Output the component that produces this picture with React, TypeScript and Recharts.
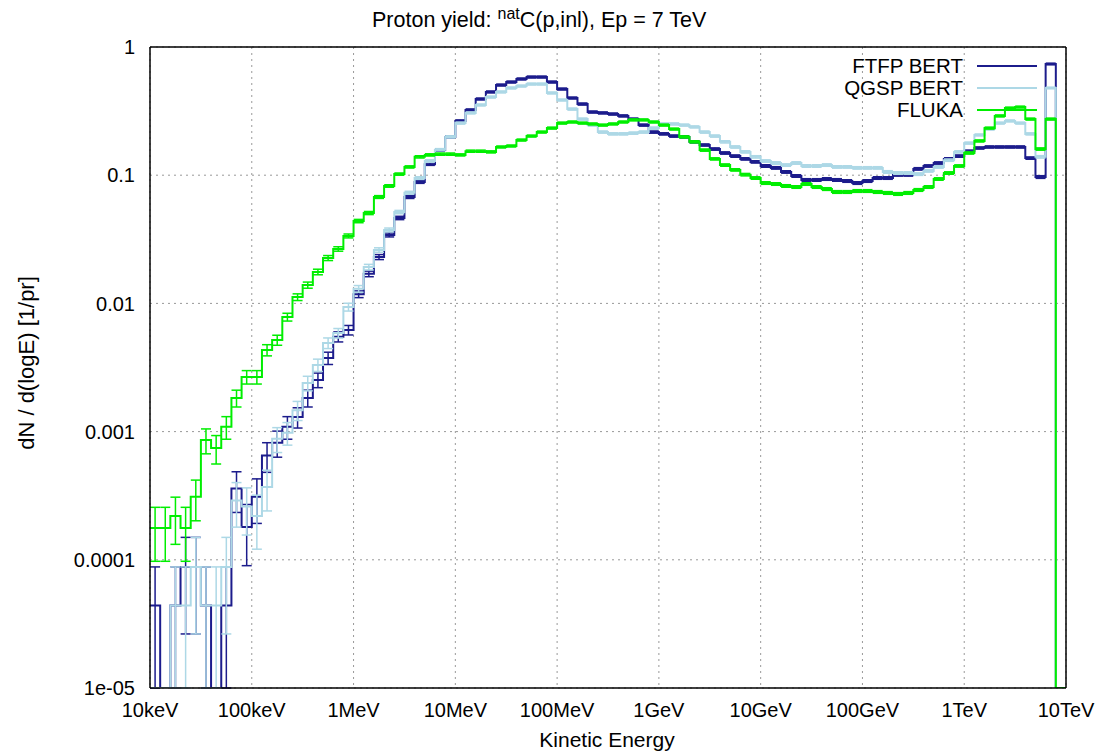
import React from 'react'
import { ComposedChart, Line, Scatter, ErrorBar, XAxis, YAxis, CartesianGrid } from 'recharts'

// x axis: log10(E / eV), 10 bins per decade from 10 keV to 10 TeV
const energyTicks = [4, 5, 6, 7, 8, 9, 10, 11, 12, 13]
const energyLabels = ['10keV', '100keV', '1MeV', '10MeV', '100MeV', '1GeV', '10GeV', '100GeV', '1TeV', '10TeV']
const yieldTicks = [1e-5, 1e-4, 1e-3, 0.01, 0.1, 1]
const yieldLabels = ['1e-05', '0.0001', '0.001', '0.01', '0.1', '1']

const binEdges = Array.from({ length: 91 }, (_, i) => +(4 + i / 10).toFixed(1))

const ftfp = [
  4.4e-5, 0, 4.4e-5, 8.8e-5, 8.8e-5, 4.4e-5, 0, 4.4e-5, 3.6e-4, 1.8e-4,
  3.1e-4, 6.5e-4, 8.2e-4, 1.09e-3, 1.3e-3, 1.83e-3, 2.53e-3, 3.75e-3, 5.5e-3, 6.2e-3,
  1.18e-2, 1.7e-2, 2.3e-2, 3.42e-2, 4.64e-2, 6.76e-2, 8.85e-2, 0.122, 0.157, 0.199,
  0.265, 0.323, 0.393, 0.446, 0.505, 0.533, 0.563, 0.583, 0.583, 0.533,
  0.47, 0.4, 0.359, 0.311, 0.306, 0.3, 0.29, 0.274, 0.246, 0.217,
  0.21, 0.202, 0.199, 0.182, 0.172, 0.16, 0.149, 0.141, 0.134, 0.127,
  0.118, 0.114, 0.106, 0.0986, 0.0918, 0.0918, 0.0934, 0.0918, 0.0901, 0.0869,
  0.0901, 0.0951, 0.0951, 0.1005, 0.1005, 0.112, 0.118, 0.1245, 0.134, 0.141,
  0.154, 0.163, 0.166, 0.166, 0.166, 0.166, 0.136, 0.0968, 0.737, 0,
]
const qgsp = [
  0, 0, 4.4e-5, 4.4e-5, 8.8e-5, 4.4e-5, 4.4e-5, 8.8e-5, 2.9e-4, 2.6e-4,
  2.2e-4, 3.7e-4, 8.8e-4, 9.8e-4, 1.47e-3, 2.39e-3, 3.31e-3, 4.91e-3, 5.87e-3, 9.37e-3,
  1.3e-2, 1.92e-2, 2.61e-2, 3.74e-2, 5.16e-2, 7.3e-2, 9.5e-2, 0.129, 0.158, 0.199,
  0.255, 0.306, 0.353, 0.407, 0.446, 0.479, 0.496, 0.514, 0.514, 0.438,
  0.386, 0.328, 0.274, 0.246, 0.217, 0.21, 0.21, 0.213, 0.217, 0.233,
  0.251, 0.251, 0.246, 0.238, 0.217, 0.202, 0.182, 0.166, 0.152, 0.139,
  0.129, 0.1245, 0.12, 0.1245, 0.118, 0.118, 0.12, 0.116, 0.116, 0.114,
  0.114, 0.114, 0.106, 0.104, 0.104, 0.102, 0.108, 0.116, 0.131, 0.152,
  0.178, 0.206, 0.229, 0.255, 0.265, 0.255, 0.21, 0.139, 0.479, 0,
]
const fluka = [
  1.77e-4, 1.77e-4, 2.2e-4, 1.77e-4, 3.1e-4, 8.6e-4, 7.45e-4, 1.09e-3, 1.83e-3, 2.67e-3,
  2.67e-3, 4.33e-3, 5.18e-3, 7.83e-3, 1.12e-2, 1.39e-2, 1.76e-2, 2.26e-2, 2.66e-2, 3.36e-2,
  4.39e-2, 5.07e-2, 6.76e-2, 8.24e-2, 0.102, 0.116, 0.139, 0.144, 0.146, 0.146,
  0.144, 0.154, 0.154, 0.152, 0.166, 0.169, 0.188, 0.202, 0.217, 0.233,
  0.255, 0.26, 0.255, 0.251, 0.246, 0.251, 0.26, 0.27, 0.27, 0.26,
  0.246, 0.229, 0.199, 0.182, 0.157, 0.134, 0.12, 0.11, 0.101, 0.0951,
  0.0869, 0.0854, 0.0824, 0.0809, 0.0854, 0.0809, 0.078, 0.074, 0.074, 0.0753,
  0.0753, 0.074, 0.0727, 0.0714, 0.0727, 0.0767, 0.0809, 0.0934, 0.104, 0.118,
  0.149, 0.185, 0.233, 0.29, 0.334, 0.34, 0.274, 0.16, 0.274, 0,
]

// relative statistical errors per bin
const ftfpErr = [
  1, 0, 1, 0.7, 0.7, 1, 0, 1, 0.35, 0.5,
  0.38, 0.26, 0.23, 0.2, 0.18, 0.15, 0.13, 0.11, 0.09, 0.085,
  0.06, 0.05, 0.045, 0.035, 0.03, 0.026, 0.024, 0.022, 0.02, 0.02,
  0.019, 0.018, 0.018, 0.018, 0.018, 0.018, 0.018, 0.018, 0.018, 0.018,
  0.018, 0.018, 0.019, 0.019, 0.019, 0.019, 0.019, 0.019, 0.019, 0.02,
  0.02, 0.02, 0.02, 0.02, 0.02, 0.021, 0.021, 0.021, 0.021, 0.021,
  0.022, 0.022, 0.022, 0.023, 0.023, 0.023, 0.023, 0.023, 0.023, 0.023,
  0.023, 0.023, 0.023, 0.022, 0.022, 0.022, 0.021, 0.021, 0.021, 0.021,
  0.02, 0.02, 0.02, 0.02, 0.02, 0.02, 0.021, 0.024, 0.015, 0,
]
const qgspErr = [
  0, 0, 1, 1, 0.7, 1, 1, 0.7, 0.38, 0.4,
  0.45, 0.35, 0.22, 0.2, 0.17, 0.13, 0.11, 0.095, 0.085, 0.07,
  0.06, 0.05, 0.04, 0.035, 0.03, 0.026, 0.024, 0.022, 0.02, 0.02,
  0.019, 0.018, 0.018, 0.018, 0.018, 0.018, 0.018, 0.018, 0.018, 0.018,
  0.018, 0.019, 0.019, 0.019, 0.02, 0.02, 0.02, 0.02, 0.02, 0.02,
  0.019, 0.019, 0.019, 0.019, 0.02, 0.02, 0.02, 0.021, 0.021, 0.021,
  0.022, 0.022, 0.022, 0.022, 0.022, 0.022, 0.022, 0.022, 0.022, 0.022,
  0.022, 0.022, 0.023, 0.023, 0.023, 0.023, 0.022, 0.022, 0.021, 0.02,
  0.019, 0.018, 0.018, 0.018, 0.018, 0.018, 0.019, 0.022, 0.015, 0,
]
const flukaErr = [
  0.45, 0.45, 0.4, 0.45, 0.35, 0.22, 0.25, 0.2, 0.15, 0.12,
  0.12, 0.1, 0.09, 0.07, 0.06, 0.055, 0.05, 0.045, 0.04, 0.035,
  0.03, 0.028, 0.025, 0.022, 0.02, 0.02, 0.02, 0.02, 0.02, 0.02,
  0.019, 0.019, 0.019, 0.019, 0.018, 0.018, 0.018, 0.018, 0.018, 0.018,
  0.018, 0.018, 0.018, 0.018, 0.018, 0.018, 0.018, 0.018, 0.018, 0.018,
  0.018, 0.018, 0.019, 0.019, 0.02, 0.02, 0.021, 0.021, 0.022, 0.022,
  0.023, 0.023, 0.023, 0.023, 0.023, 0.023, 0.024, 0.024, 0.024, 0.024,
  0.024, 0.024, 0.024, 0.024, 0.024, 0.024, 0.023, 0.022, 0.022, 0.021,
  0.02, 0.019, 0.018, 0.018, 0.017, 0.017, 0.018, 0.021, 0.018, 0,
]

const YMIN = 1e-5 // empty bins / long error bars stop at the bottom axis

const steps = binEdges.map((x, i) => {
  const k = Math.min(i, 89)
  return {
    x,
    ftfp: Math.max(ftfp[k], YMIN),
    qgsp: Math.max(qgsp[k], YMIN),
    fluka: Math.max(fluka[k], YMIN),
  }
})

const errRows = (vals: number[], rel: number[]) =>
  vals
    .map((v, i) => ({ x: binEdges[i] + 0.05, y: v, err: [Math.min(v * rel[i], v - YMIN), v * rel[i]] }))
    .filter((r) => r.y > 0 && r.err[1] > 0)

const series = [
  { key: 'ftfp', name: 'FTFP BERT', color: '#1c1c8c', vals: ftfp, rel: ftfpErr },
  { key: 'qgsp', name: 'QGSP BERT', color: '#add8e6', vals: qgsp, rel: qgspErr },
  { key: 'fluka', name: 'FLUKA', color: '#00ee00', vals: fluka, rel: flukaErr },
]

const minorX = energyTicks.slice(0, -1).flatMap((d) => [2, 3, 4, 5, 6, 7, 8, 9].map((m) => d + Math.log10(m)))
const minorY = yieldTicks.slice(0, -1).flatMap((d) => [2, 3, 4, 5, 6, 7, 8, 9].map((m) => m * d))

const FONT = '"Liberation Sans", Arial, sans-serif'
const tickFont = { fontSize: 20, fill: '#000', fontFamily: FONT }
const tl = { stroke: '#000', strokeWidth: 1.2 }
const al = { stroke: '#000', strokeWidth: 1.5 }

const App: React.FC = () => {
  return (
    <div style={{ position: 'absolute', left: 0, top: 0, width: 1097, height: 755, background: '#fff', fontFamily: FONT, color: '#000' }}>
      <ComposedChart width={1097} height={755} data={steps} margin={{ top: 47, right: 31, bottom: 32, left: 10 }}>
        <CartesianGrid xAxisId="x" yAxisId="y" stroke="#999" strokeDasharray="2 4" />

        {series.map((s) => [
          <Line key={s.key} xAxisId="x" yAxisId="y" dataKey={s.key} type="stepAfter" stroke={s.color}
            strokeWidth={2} dot={false} activeDot={false} isAnimationActive={false} />,
          <Scatter key={s.key + '-err'} xAxisId="x" yAxisId="y" data={errRows(s.vals, s.rel)} dataKey="y"
            shape={() => <g />} legendType="none" isAnimationActive={false}>
            <ErrorBar dataKey="err" direction="y" width={5} stroke={s.color} strokeWidth={1.5} />
          </Scatter>,
        ])}

        <XAxis xAxisId="x" dataKey="x" type="number" domain={[4, 13]} ticks={energyTicks} allowDataOverflow
          height={35} tickSize={5} tickMargin={10} tickLine={false} axisLine={al} tick={tickFont}
          tickFormatter={(v: number) => energyLabels[energyTicks.indexOf(v)] ?? ''} />
        <XAxis xAxisId="xb" dataKey="x" type="number" domain={[4, 13]} ticks={energyTicks} allowDataOverflow
          orientation="bottom" mirror height={1} tickSize={9} tick={false} tickLine={tl} axisLine={false} />
        <XAxis xAxisId="xbm" dataKey="x" type="number" domain={[4, 13]} ticks={minorX} allowDataOverflow
          orientation="bottom" mirror height={1} tickSize={5} tick={false} tickLine={tl} axisLine={false} />
        <XAxis xAxisId="xt" dataKey="x" type="number" domain={[4, 13]} ticks={energyTicks} allowDataOverflow
          orientation="top" mirror height={1} tickSize={9} tick={false} tickLine={tl} axisLine={al} />
        <XAxis xAxisId="xtm" dataKey="x" type="number" domain={[4, 13]} ticks={minorX} allowDataOverflow
          orientation="top" mirror height={1} tickSize={5} tick={false} tickLine={tl} axisLine={false} />

        <YAxis yAxisId="y" type="number" scale="log" domain={[1e-5, 1]} ticks={yieldTicks} allowDataOverflow
          width={140} tickSize={5} tickMargin={10} tickLine={false} axisLine={al} tick={tickFont}
          tickFormatter={(v: number) => yieldLabels[yieldTicks.indexOf(v)] ?? ''} />
        <YAxis yAxisId="yl" type="number" scale="log" domain={[1e-5, 1]} ticks={yieldTicks} allowDataOverflow
          orientation="left" mirror width={1} tickSize={9} tick={false} tickLine={tl} axisLine={false} />
        <YAxis yAxisId="ylm" type="number" scale="log" domain={[1e-5, 1]} ticks={minorY} allowDataOverflow
          orientation="left" mirror width={1} tickSize={5} tick={false} tickLine={tl} axisLine={false} />
        <YAxis yAxisId="yr" type="number" scale="log" domain={[1e-5, 1]} ticks={yieldTicks} allowDataOverflow
          orientation="right" mirror width={1} tickSize={9} tick={false} tickLine={tl} axisLine={al} />
        <YAxis yAxisId="yrm" type="number" scale="log" domain={[1e-5, 1]} ticks={minorY} allowDataOverflow
          orientation="right" mirror width={1} tickSize={5} tick={false} tickLine={tl} axisLine={false} />
      </ComposedChart>

      {/* title */}
      <div style={{ position: 'absolute', left: 372, top: 5, fontSize: 21.5, whiteSpace: 'nowrap' }}>
        Proton yield: <sup style={{ fontSize: 16 }}>nat</sup>C(p,inl), Ep = 7 TeV
      </div>
      {/* axis titles */}
      <div style={{ position: 'absolute', left: 27, top: 363, fontSize: 22, whiteSpace: 'nowrap', transform: 'translate(-50%, -50%) rotate(-90deg)' }}>
        dN / d(logE) [1/pr]
      </div>
      <div style={{ position: 'absolute', left: 607, top: 740, fontSize: 21, whiteSpace: 'nowrap', transform: 'translate(-50%, -50%)' }}>
        Kinetic Energy
      </div>
      {/* legend */}
      {series.map((s, i) => (
        <div key={s.key} style={{ position: 'absolute', top: 66 + i * 22, left: 0, width: 1040, height: 0 }}>
          <span style={{ position: 'absolute', right: 1040 - 963, top: -12, fontSize: 20.5, lineHeight: '24px', whiteSpace: 'nowrap' }}>{s.name}</span>
          <span style={{ position: 'absolute', left: 977, width: 60, top: -1, height: 2, background: s.color }} />
        </div>
      ))}
    </div>
  )
}

export default App
